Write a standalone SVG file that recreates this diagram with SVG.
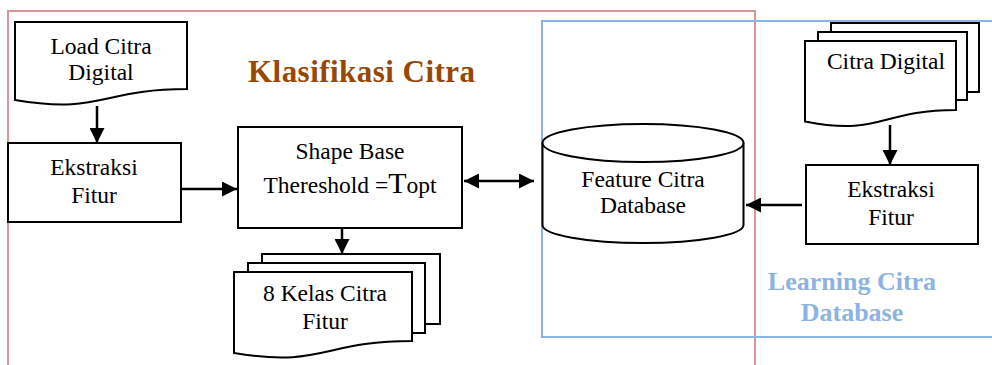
<svg xmlns="http://www.w3.org/2000/svg" width="992" height="365" viewBox="0 0 992 365">
  <style>
    .shape { fill: #ffffff; stroke: #000000; stroke-width: 2; }
    .txt { font-size: 23.5px; fill: #000000; text-anchor: middle; }
    .wire { fill: none; stroke: #000000; stroke-width: 2.5; }
    .zone-red { fill: none; stroke: #DA9694; stroke-width: 2; }
    .zone-blue { fill: none; stroke: #8DB3E2; stroke-width: 2; }
    .title { font-weight: bold; text-anchor: middle; }
  </style>
  <defs>
    <marker id="head" markerUnits="userSpaceOnUse" markerWidth="16" markerHeight="15" refX="15" refY="7.5" orient="auto-start-reverse">
      <path d="M0,0 L15,7.5 L0,15 Z" fill="#000000"/>
    </marker>
  </defs>

  <rect width="992" height="365" fill="#ffffff"/>

  <g font-family="Liberation Serif, Times New Roman, serif">
  <!-- grouping frames -->
  <g id="frames">
    <path class="zone-red" d="M8,370 V11 H755 V370"/>
    <path class="zone-blue" d="M1000,21 H542 V337 H1000"/>
    <text class="title" x="361.5" y="82" font-size="31" fill="#984806" textLength="227" lengthAdjust="spacing">Klasifikasi Citra</text>
    <text class="title" x="852" y="290" font-size="26" fill="#8DB3E2">Learning Citra</text>
    <text class="title" x="852" y="321" font-size="26" fill="#8DB3E2">Database</text>
  </g>

  <!-- connectors -->
  <g id="connectors">
    <line class="wire" x1="97" y1="106" x2="97" y2="143" marker-end="url(#head)"/>
    <line class="wire" x1="181" y1="189" x2="237" y2="189" marker-end="url(#head)"/>
    <line class="wire" x1="342" y1="228" x2="342" y2="254" marker-end="url(#head)"/>
    <line class="wire" x1="464" y1="181" x2="534" y2="181" marker-start="url(#head)" marker-end="url(#head)"/>
    <line class="wire" x1="890" y1="125" x2="890" y2="165" marker-end="url(#head)"/>
    <line class="wire" x1="802" y1="205" x2="746" y2="205" marker-end="url(#head)"/>
  </g>

  <!-- Load Citra Digital (document) -->
  <g id="load-citra">
    <path class="shape" d="M15,22 H187 V89 C101,89 101,114.5 15,100 Z"/>
    <text class="txt" x="101" y="54">Load Citra</text>
    <text class="txt" x="101" y="80">Digital</text>
  </g>

  <!-- Ekstraksi Fitur (left) -->
  <g id="ekstraksi-kiri">
    <rect class="shape" x="8" y="143" width="173" height="79"/>
    <text class="txt" x="94" y="175">Ekstraksi</text>
    <text class="txt" x="94" y="203">Fitur</text>
  </g>

  <!-- Shape Base threshold -->
  <g id="shape-base">
    <rect class="shape" x="238" y="127" width="224" height="101"/>
    <text class="txt" x="350" y="159">Shape Base</text>
    <text class="txt" x="350" y="193">Thereshold =<tspan font-size="30">T</tspan>opt</text>
  </g>

  <!-- 8 Kelas Citra Fitur (multi-document) -->
  <g id="kelas-citra">
    <rect class="shape" x="262" y="254" width="178" height="70"/>
    <rect class="shape" x="248" y="263" width="177" height="70"/>
    <path class="shape" d="M234,272 H412 V341 C323,341 323,368 234,353 Z"/>
    <text class="txt" x="325" y="301">8 Kelas Citra</text>
    <text class="txt" x="325" y="329">Fitur</text>
  </g>

  <!-- Feature Citra Database (cylinder) -->
  <g id="feature-db">
    <path class="shape" d="M542.5,143 V225 A100.5,18 0 0 0 743.5,225 V143"/>
    <ellipse class="shape" cx="643" cy="143" rx="100.5" ry="19"/>
    <text class="txt" x="643" y="187">Feature Citra</text>
    <text class="txt" x="643" y="213">Database</text>
  </g>

  <!-- Citra Digital (multi-document) -->
  <g id="citra-digital">
    <rect class="shape" x="831" y="23" width="148" height="69"/>
    <rect class="shape" x="818" y="32" width="149" height="68"/>
    <path class="shape" d="M805,41 H956 V110 C880.5,110 880.5,136.5 805,121.5 Z"/>
    <text class="txt" x="886" y="69">Citra Digital</text>
  </g>

  <!-- Ekstraksi Fitur (right) -->
  <g id="ekstraksi-kanan">
    <rect class="shape" x="806" y="165" width="172" height="79"/>
    <text class="txt" x="891" y="197">Ekstraksi</text>
    <text class="txt" x="891" y="225">Fitur</text>
  </g>
  </g>
</svg>
